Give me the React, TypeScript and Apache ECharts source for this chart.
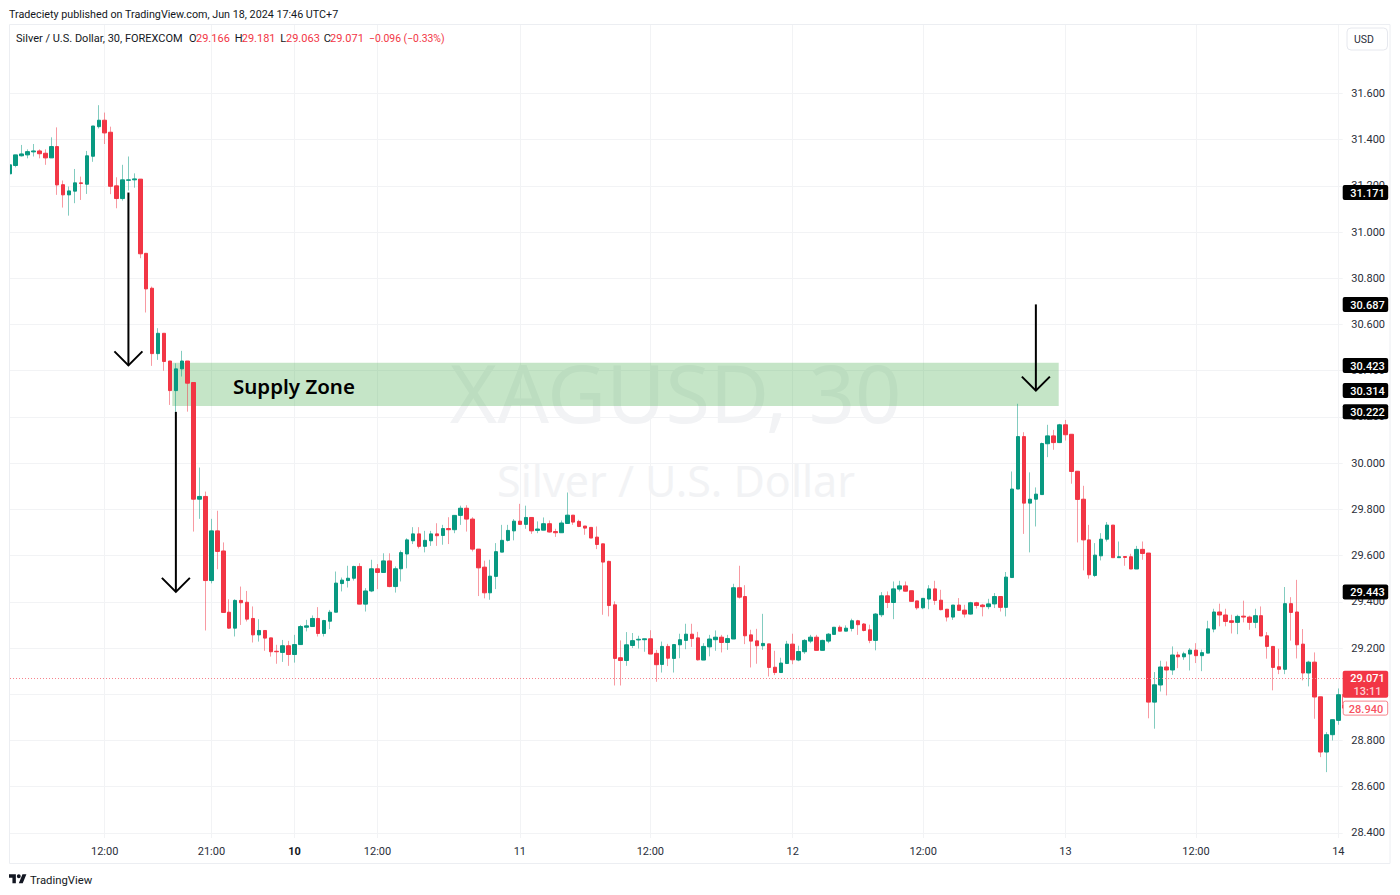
import React, { useEffect, useRef } from "react";
import * as echarts from "echarts";

const opens = [
  31.252,31.288,31.33,31.334,31.347,31.351,31.341,31.321,31.37,31.205,
  31.161,31.177,31.213,31.207,31.328,31.456,31.484,31.432,31.2,31.145,
  31.224,31.226,31.229,30.908,30.757,30.474,30.562,30.442,30.314,30.408,
  30.442,30.349,29.844,29.856,29.492,29.707,29.62,29.355,29.286,29.406,
  29.398,29.328,29.257,29.276,29.244,29.186,29.181,29.21,29.172,29.215,
  29.29,29.293,29.328,29.263,29.316,29.355,29.479,29.492,29.502,29.553,
  29.39,29.447,29.543,29.527,29.577,29.466,29.543,29.607,29.664,29.694,
  29.64,29.664,29.694,29.687,29.717,29.712,29.774,29.805,29.758,29.628,
  29.55,29.439,29.51,29.615,29.666,29.707,29.749,29.735,29.765,29.709,
  29.71,29.738,29.704,29.699,29.739,29.775,29.748,29.728,29.722,29.68,
  29.651,29.575,29.387,29.158,29.146,29.211,29.235,29.236,29.24,29.177,
  29.129,29.207,29.155,29.214,29.233,29.26,29.244,29.148,29.205,29.236,
  29.247,29.224,29.239,29.461,29.423,29.257,29.231,29.21,29.218,29.117,
  29.094,29.133,29.217,29.148,29.184,29.23,29.247,29.19,29.23,29.259,
  29.29,29.273,29.285,29.318,29.304,29.279,29.233,29.344,29.426,29.397,
  29.455,29.469,29.448,29.404,29.374,29.412,29.456,29.407,29.368,29.334,
  29.386,29.364,29.347,29.396,29.386,29.379,29.391,29.423,29.376,29.505,
  29.888,30.115,29.827,29.844,29.864,30.084,30.118,30.089,30.166,30.125,
  29.965,29.844,29.668,29.514,29.599,29.671,29.732,29.591,29.596,29.595,
  29.542,29.627,29.611,28.966,29.04,29.118,29.105,29.17,29.162,29.174,
  29.191,29.167,29.178,29.282,29.356,29.343,29.318,29.311,29.338,29.334,
  29.311,29.34,29.253,29.207,29.119,29.108,29.392,29.356,29.217,29.092,
  29.139,28.989,28.75,28.825,28.887,28.998,
];
const closes = [
  31.291,31.334,31.338,31.348,31.351,31.339,31.321,31.37,31.204,31.161,
  31.178,31.213,31.21,31.33,31.459,31.484,31.429,31.198,31.145,31.226,
  31.226,31.23,30.906,30.754,30.474,30.562,30.44,30.314,30.408,30.442,
  30.346,29.844,29.856,29.492,29.707,29.618,29.354,29.286,29.406,29.396,
  29.325,29.257,29.276,29.243,29.184,29.184,29.21,29.172,29.215,29.293,
  29.296,29.328,29.263,29.319,29.355,29.481,29.494,29.502,29.553,29.39,
  29.447,29.543,29.527,29.577,29.466,29.543,29.613,29.668,29.694,29.64,
  29.666,29.694,29.686,29.717,29.712,29.774,29.805,29.758,29.628,29.547,
  29.439,29.511,29.617,29.666,29.709,29.749,29.735,29.765,29.707,29.715,
  29.738,29.702,29.699,29.741,29.775,29.745,29.726,29.719,29.676,29.648,
  29.572,29.384,29.155,29.146,29.214,29.232,29.238,29.24,29.174,29.128,
  29.207,29.156,29.215,29.236,29.26,29.241,29.149,29.207,29.239,29.247,
  29.224,29.241,29.461,29.42,29.253,29.23,29.21,29.22,29.116,29.094,
  29.135,29.217,29.149,29.185,29.233,29.247,29.19,29.233,29.26,29.29,
  29.273,29.286,29.318,29.301,29.276,29.233,29.347,29.426,29.397,29.456,
  29.469,29.446,29.402,29.374,29.415,29.456,29.406,29.366,29.334,29.386,
  29.363,29.347,29.396,29.384,29.379,29.391,29.423,29.376,29.507,29.888,
  30.115,29.827,29.844,29.866,30.085,30.118,30.089,30.166,30.123,29.964,
  29.843,29.668,29.517,29.602,29.671,29.732,29.591,29.595,29.592,29.542,
  29.627,29.609,28.966,29.041,29.118,29.105,29.17,29.162,29.175,29.191,
  29.167,29.18,29.283,29.356,29.343,29.315,29.311,29.337,29.334,29.311,
  29.34,29.252,29.207,29.116,29.108,29.392,29.354,29.214,29.092,29.139,
  28.988,28.75,28.825,28.89,28.998,28.94,
];
const lows = [
  31.247,31.28,31.327,31.319,31.327,31.319,31.291,31.321,31.161,31.106,
  31.071,31.125,31.139,31.165,31.304,31.448,31.381,31.164,31.103,31.136,
  31.18,31.192,30.887,30.652,30.421,30.447,30.4,30.252,30.222,30.375,
  30.223,29.704,29.759,29.276,29.48,29.541,29.354,29.283,29.25,29.30,
  29.315,29.224,29.228,29.188,29.163,29.132,29.14,29.123,29.137,29.214,
  29.272,29.293,29.25,29.25,29.282,29.355,29.445,29.462,29.492,29.39,
  29.358,29.442,29.455,29.527,29.463,29.44,29.488,29.545,29.65,29.631,
  29.614,29.642,29.642,29.647,29.65,29.697,29.733,29.704,29.618,29.425,
  29.415,29.409,29.455,29.615,29.661,29.666,29.735,29.716,29.694,29.697,
  29.71,29.7,29.681,29.699,29.739,29.733,29.723,29.69,29.676,29.628,
  29.344,29.337,29.038,29.038,29.123,29.2,29.198,29.184,29.174,29.054,
  29.094,29.122,29.094,29.156,29.195,29.205,29.146,29.148,29.164,29.188,
  29.181,29.192,29.239,29.414,29.217,29.116,29.132,29.192,29.077,29.083,
  29.094,29.133,29.13,29.143,29.175,29.221,29.19,29.19,29.221,29.259,
  29.273,29.273,29.272,29.257,29.272,29.221,29.19,29.334,29.373,29.325,
  29.445,29.445,29.402,29.366,29.368,29.368,29.387,29.363,29.315,29.322,
  29.361,29.332,29.345,29.371,29.337,29.368,29.373,29.358,29.337,29.505,
  29.888,29.694,29.614,29.726,29.864,30.026,30.058,30.087,30.098,29.911,
  29.657,29.536,29.5,29.507,29.579,29.661,29.591,29.591,29.556,29.542,
  29.542,29.582,28.896,28.851,29.012,28.995,29.084,29.113,29.149,29.103,
  29.135,29.1,29.178,29.268,29.294,29.294,29.263,29.26,29.311,29.279,
  29.286,29.252,29.154,29.017,29.087,29.087,29.232,29.155,29.06,29.034,
  28.894,28.728,28.663,28.8,28.868,28.94,
];
const highs = [
  31.291,31.334,31.377,31.358,31.381,31.358,31.358,31.41,31.453,31.223,
  31.197,31.273,31.24,31.351,31.459,31.549,31.517,31.456,31.237,31.291,
  31.327,31.254,31.229,30.908,30.764,30.584,30.562,30.442,30.432,30.486,
  30.442,30.35,29.981,29.877,29.759,29.794,29.657,29.411,29.411,29.466,
  29.447,29.38,29.325,29.276,29.244,29.214,29.235,29.231,29.257,29.30,
  29.322,29.341,29.377,29.322,29.365,29.531,29.505,29.556,29.556,29.567,
  29.459,29.582,29.563,29.61,29.61,29.553,29.622,29.675,29.723,29.723,
  29.707,29.707,29.74,29.733,29.766,29.774,29.816,29.818,29.766,29.628,
  29.578,29.582,29.654,29.733,29.733,29.758,29.824,29.816,29.765,29.748,
  29.765,29.752,29.716,29.752,29.873,29.775,29.755,29.728,29.722,29.726,
  29.651,29.578,29.402,29.233,29.269,29.265,29.253,29.24,29.277,29.192,
  29.228,29.218,29.217,29.262,29.305,29.305,29.27,29.221,29.257,29.276,
  29.257,29.257,29.478,29.556,29.472,29.279,29.283,29.348,29.218,29.188,
  29.158,29.231,29.262,29.21,29.239,29.257,29.257,29.236,29.265,29.29,
  29.298,29.298,29.327,29.322,29.308,29.301,29.351,29.442,29.445,29.488,
  29.491,29.488,29.448,29.404,29.416,29.472,29.491,29.452,29.368,29.386,
  29.416,29.387,29.4,29.4,29.391,29.413,29.438,29.423,29.529,29.964,
  30.257,30.134,29.96,29.895,30.089,30.166,30.144,30.17,30.187,30.125,
  29.965,29.902,29.733,29.654,29.697,29.745,29.732,29.661,29.596,29.608,
  29.642,29.661,29.611,29.096,29.145,29.142,29.207,29.184,29.184,29.2,
  29.221,29.193,29.318,29.37,29.392,29.37,29.344,29.344,29.405,29.34,
  29.37,29.38,29.269,29.207,29.197,29.464,29.42,29.495,29.282,29.145,
  29.181,28.989,28.836,28.89,29.025,29.02,
];

const timeTickBars = [16, 34, 48, 62, 86, 108, 132, 154, 178, 200, 224];
const timeTickLabels = ["12:00", "21:00", "10", "12:00", "11", "12:00", "12", "12:00", "13", "12:00", "14"];
const boldTimeTick = "10";
const priceTicks = [28.4, 28.6, 28.8, 29.0, 29.2, 29.4, 29.6, 29.8, 30.0, 30.2, 30.4, 30.6, 30.8, 31.0, 31.2, 31.4, 31.6];

const levelTags = [31.171, 30.687, 30.423, 30.314, 30.222, 29.443];
const lastPrice = 29.071;
const countdown = "13:11";
const lowTag = 28.94;
const zoneBars = [27.4, 176.85];
const zonePrices = [30.435, 30.247];
// arrows: bar position, price at the tail, price at the tip
const arrowBars = [20.0, 28.0, 173.0];
const arrowTails = [31.171, 30.222, 30.687];
const arrowTips = [30.423, 29.443, 30.314];

const UP = "#089981";
const DOWN = "#F23645";
const UI_FONT = "Roboto, sans-serif";
const MARK_FONT = "'Noto Sans', sans-serif";
const TEXT = "#2A2E39";

const wickData = opens.map((o, i) => [i, o, closes[i], lows[i], highs[i]]);
const bodyData = opens.map((o, i) => [i, o, closes[i], Math.min(o, closes[i]), Math.max(o, closes[i])]);

const LOGO =
  "M14 22H7V11H0V4h14v18zM28 22h-8l7.5-18h8L28 22zM24 8a4 4 0 1 0-8 0 4 4 0 0 0 8 0z";
echarts.graphic.registerShape("tvlogo", echarts.graphic.extendPath(LOGO, {}) as any);

export default function App() {
  const ref = useRef<HTMLDivElement>(null);
  useEffect(() => {
    const chart = echarts.init(ref.current!, undefined, { renderer: "svg" });
    const barsToX = (v: number) => (v - 9.8) / 5.931;
    chart.setOption({
      animation: false,
      backgroundColor: "#ffffff",
      grid: { left: 10, top: 25, width: 1332.7, height: 813, containLabel: false },
      xAxis: {
        type: "value",
        min: barsToX(10),
        max: barsToX(1342.7),
        axisLine: { show: false },
        axisTick: { show: false, customValues: timeTickBars },
        splitLine: { show: true, lineStyle: { color: "#F2F3F5", width: 1 } },
        axisLabel: {
          customValues: timeTickBars,
          margin: 8,
          fontFamily: UI_FONT,
          fontSize: 11,
          color: TEXT,
          hideOverlap: false,
          formatter: (v: number) => {
            const t = timeTickLabels[timeTickBars.indexOf(Math.round(v))] ?? "";
            return t === boldTimeTick ? `{b|${t}}` : t;
          },
          rich: { b: { fontFamily: UI_FONT, fontSize: 11, fontWeight: "bold", color: "#131722" } },
        },
      },
      yAxis: {
        type: "value",
        position: "right",
        min: 28.378,
        max: 31.896,
        scale: true,
        axisLine: { show: false },
        axisTick: { show: false, customValues: priceTicks },
        splitLine: { show: true, lineStyle: { color: "#F2F3F5", width: 1 } },
        axisLabel: {
          customValues: priceTicks,
          margin: 8.5,
          padding: [2, 0, 0, 0],
          fontFamily: UI_FONT,
          fontSize: 11,
          color: TEXT,
          hideOverlap: false,
          formatter: (v: number) => v.toFixed(3),
        },
      },
      series: [
        {
          name: "wicks",
          type: "candlestick",
          barWidth: 1,
          data: wickData,
          encode: { x: 0, y: [1, 2, 3, 4] },
          itemStyle: {
            color: "rgba(8,153,129,0.5)",
            color0: "rgba(242,54,69,0.5)",
            borderColor: "rgba(8,153,129,0.5)",
            borderColor0: "rgba(242,54,69,0.5)",
            borderColorDoji: "rgba(8,153,129,0.5)",
            borderWidth: 1,
          },
          markArea: {
            silent: true,
            itemStyle: { color: "rgba(76,175,80,0.32)" },
            data: [[{ coord: [zoneBars[0], zonePrices[0]] }, { coord: [zoneBars[1], zonePrices[1]] }]],
          },
          markLine: {
            silent: true,
            symbol: "none",
            label: { show: false },
            lineStyle: { color: "#F7838C", type: [1, 2], width: 1 },
            data: [{ yAxis: lastPrice }],
          },
        },
        {
          name: "bodies",
          type: "candlestick",
          barWidth: 4,
          data: bodyData,
          encode: { x: 0, y: [1, 2, 3, 4] },
          itemStyle: {
            color: UP,
            color0: DOWN,
            borderColor: UP,
            borderColor0: DOWN,
            borderColorDoji: UP,
            borderWidth: 1,
          },
        },
      ],
    });

    const px = (bar: number) => chart.convertToPixel({ xAxisIndex: 0 }, bar) as number;
    const py = (price: number) => chart.convertToPixel({ yAxisIndex: 0 }, price) as number;

    const arrowEls: any[] = [];
    arrowBars.forEach((bar, i) => {
      const x = px(bar);
      const y0 = py(arrowTails[i]);
      const y1 = py(arrowTips[i]);
      const shaft = { stroke: "#000000", lineWidth: 2, fill: "none" };
      arrowEls.push({ type: "line", z: 40, shape: { x1: x, y1: y0, x2: x, y2: y1 }, style: shaft });
      arrowEls.push({
        type: "polyline",
        z: 40,
        shape: { points: [[x - 14, y1 - 14], [x, y1], [x + 14, y1 - 14]] },
        style: shaft,
      });
    });

    const tagEls: any[] = [];
    levelTags.forEach((v) => {
      const y = py(v);
      tagEls.push({
        type: "rect", z: 60,
        shape: { x: 1342.7, y: y - 7.5, width: 45.5, height: 15, r: 2 },
        style: { fill: "#000000" },
      });
      tagEls.push({
        type: "text", z: 61, x: 1367.5, y: y + 1,
        style: { text: v.toFixed(3), fill: "#ffffff", font: `500 11px ${UI_FONT}`, align: "center", verticalAlign: "middle" },
      });
    });

    const yLast = py(lastPrice);
    const yLow = py(lowTag);
    chart.setOption({
      graphic: [
        { type: "text", z: 0, x: 675.5, y: 391, silent: true,
          style: { text: "XAGUSD, 30", fill: "#F2F3F5", font: `81px ${MARK_FONT}`, align: "center", verticalAlign: "middle" } },
        { type: "text", z: 0, x: 676, y: 480, silent: true,
          style: { text: "Silver / U.S. Dollar", fill: "#F2F3F5", font: `43px ${MARK_FONT}`, align: "center", verticalAlign: "middle" } },
        { type: "rect", z: 50, shape: { x: 0, y: 25, width: 9.5, height: 838 }, style: { fill: "#ffffff" } },
        { type: "rect", z: 51, shape: { x: 9.5, y: 24.5, width: 1380.5, height: 839 }, style: { fill: "none", stroke: "#ECEEF2", lineWidth: 1 } },
        { type: "text", z: 45, x: 233, y: 386,
          style: { text: "Supply Zone", fill: "#000000", font: `600 20.5px ${MARK_FONT}`, align: "left", verticalAlign: "middle" } },
        ...arrowEls,
        ...tagEls,
        { type: "rect", z: 59, shape: { x: 1342.7, y: 695, width: 46, height: 10 }, style: { fill: "#ffffff" } },
        { type: "rect", z: 60, shape: { x: 1342.7, y: yLast - 7, width: 45.5, height: 27, r: 2 }, style: { fill: DOWN } },
        { type: "text", z: 61, x: 1367.5, y: yLast + 1,
          style: { text: lastPrice.toFixed(3), fill: "#ffffff", font: `500 11px ${UI_FONT}`, align: "center", verticalAlign: "middle" } },
        { type: "text", z: 61, x: 1367.5, y: yLast + 14,
          style: { text: countdown, fill: "#FBD0D4", font: `500 11px ${UI_FONT}`, align: "center", verticalAlign: "middle" } },
        { type: "rect", z: 60, shape: { x: 1343.2, y: yLow - 7, width: 44.5, height: 14, r: 2 }, style: { fill: "#ffffff", stroke: "#F7838C", lineWidth: 1 } },
        { type: "text", z: 61, x: 1366, y: yLow + 1,
          style: { text: lowTag.toFixed(3), fill: "#F7525F", font: `500 11px ${UI_FONT}`, align: "center", verticalAlign: "middle" } },
        { type: "rect", z: 60, shape: { x: 1347, y: 28, width: 40.5, height: 22, r: 4 }, style: { fill: "#ffffff", stroke: "#E6E8EE", lineWidth: 1 } },
        { type: "text", z: 61, x: 1364, y: 39,
          style: { text: "USD", fill: TEXT, font: `10.5px ${UI_FONT}`, align: "center", verticalAlign: "middle" } },
        { type: "text", z: 61, x: 9, y: 14,
          style: { text: "Tradeciety published on TradingView.com, Jun 18, 2024 17:46 UTC+7", fill: "#131722", font: `10.75px ${UI_FONT}`, align: "left", verticalAlign: "middle" } },
        { type: "text", z: 61, x: 16, y: 38,
          style: { text: "Silver / U.S. Dollar, 30, FOREXCOM", fill: "#131722", font: `11px ${UI_FONT}`, align: "left", verticalAlign: "middle" } },
        ...([["O", 189, "29.166", 196], ["H", 234.7, "29.181", 241.7], ["L", 280.3, "29.063", 286], ["C", 323.7, "29.071", 330]] as [string, number, string, number][]).flatMap(
          ([k, kx, v, vx]) => [
            { type: "text", z: 61, x: kx, y: 38, style: { text: k, fill: "#131722", font: `11px ${UI_FONT}`, align: "left", verticalAlign: "middle" } },
            { type: "text", z: 61, x: vx, y: 38, style: { text: v, fill: DOWN, font: `11px ${UI_FONT}`, align: "left", verticalAlign: "middle" } },
          ],
        ),
        { type: "text", z: 61, x: 369, y: 38,
          style: { text: "−0.096 (−0.33%)", fill: DOWN, font: `10.4px ${UI_FONT}`, align: "left", verticalAlign: "middle" } },
        { type: "tvlogo", z: 61, x: 9, y: 872.3, scaleX: 0.49, scaleY: 0.5, style: { fill: "#131722" } },
        { type: "text", z: 61, x: 30, y: 880,
          style: { text: "TradingView", fill: "#131722", font: `11.3px ${UI_FONT}`, align: "left", verticalAlign: "middle" } },
      ],
    });
    return () => chart.dispose();
  }, []);
  return (
    <div
      ref={ref}
      style={{ position: "fixed", left: 0, top: 0, width: 1400, height: 895, background: "#ffffff" }}
    />
  );
}
